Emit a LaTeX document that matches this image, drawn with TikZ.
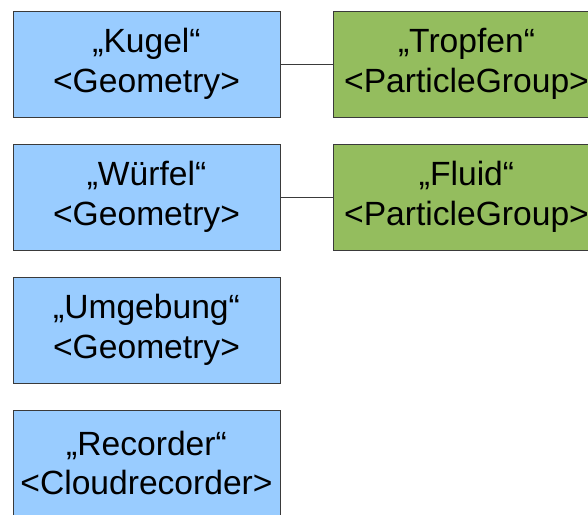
\documentclass[tikz,border=0pt]{standalone}
\usepackage{fontspec}
\setmainfont{Liberation Sans}
\usetikzlibrary{positioning}
\definecolor{geoblue}{HTML}{99CCFF}
\definecolor{groupgreen}{HTML}{94BD5E}
\definecolor{rahmen}{HTML}{3A3A3A}

\begin{document}
\begin{tikzpicture}[
		-,
		x=1pt,
		y=1pt,
		node distance=26pt and 52pt,
		thin
	]
		\tikzstyle{objekt}=[
			rectangle,
			draw=rahmen,
			line width=1pt,
			minimum width=267pt,
			minimum height=106pt,
			inner sep=0pt,
			align=center,
			font=\fontsize{33.6}{39.5}\selectfont
		]
		\tikzstyle{geo}=[objekt, fill=geoblue]
		\tikzstyle{gruppe}=[objekt, fill=groupgreen]

		\useasboundingbox (0,0) rectangle (588,-514);
		\clip (0,0) rectangle (588,-514);

		\node[geo] (kugel) at (146.5,-64) {„Kugel“\\<Geometry>};
		\node[geo, below=of kugel] (wuerfel) {„Würfel“\\<Geometry>};
		\node[geo, below=of wuerfel] (umgebung) {„Umgebung“\\<Geometry>};
		\node[geo, below=of umgebung] (recorder) {„Recorder“\\<Cloudrecorder>};

		\node[gruppe, right=of kugel] (tropfen) {„Tropfen“\\<ParticleGroup>};
		\node[gruppe, right=of wuerfel] (fluid) {„Fluid“\\<ParticleGroup>};

		\draw[draw=rahmen, line width=1pt] (kugel) -- (tropfen);
		\draw[draw=rahmen, line width=1pt] (wuerfel) -- (fluid);
	\end{tikzpicture}
\end{document}
